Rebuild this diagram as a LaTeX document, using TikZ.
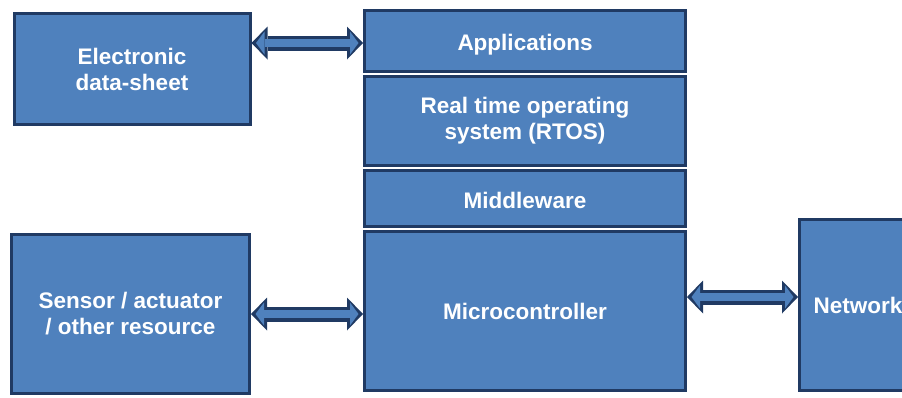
\documentclass[tikz,border=0pt]{standalone}
\usepackage{fontspec}
\setmainfont{Liberation Sans}
\usetikzlibrary{positioning,arrows.meta}
\definecolor{boxfill}{HTML}{4F81BD}
\definecolor{boxline}{HTML}{203A63}
\begin{document}
\begin{tikzpicture}[x=1pt,y=-1pt,node distance=2pt,
  block/.style={draw=boxline,fill=boxfill,line width=3pt,text=white,
    font=\bfseries\fontsize{22.5}{26}\selectfont,align=center,inner sep=0pt},
  layer/.style={block,minimum width=321pt},
  link/.style={draw=boxline,line width=15pt,
    {Triangle[length=16pt,width=33pt,line width=0pt]}-{Triangle[length=16pt,width=33pt,line width=0pt]}},
  linkfill/.style={draw=boxfill,line width=8.5pt,shorten <=4.5pt,shorten >=4.5pt,
    {Triangle[length=8.5pt,width=23pt,line width=0pt]}-{Triangle[length=8.5pt,width=23pt,line width=0pt]}}]
\useasboundingbox (0,0) rectangle (902,397);

% left side
\node[block,minimum width=236pt,minimum height=111pt] (eds) at (132,69) {Electronic\\data-sheet};
\node[block,minimum width=238pt,minimum height=159pt] (sensor) at (130.5,314) {Sensor / actuator\\/ other resource};

% the stack
\node[layer,minimum height=61pt] (apps) at (525,41) {\raisebox{-4pt}[\height][\depth]{Applications}};
\node[layer,minimum height=89pt,below=of apps] (rtos) {Real time operating\\system (RTOS)};
\node[layer,minimum height=56pt,below=of rtos] (mw) {\raisebox{-2pt}[\height][\depth]{Middleware}};
\node[layer,minimum height=159pt,below=of mw] (mcu) {Microcontroller};

% right side
\node[block,minimum width=117pt,minimum height=171pt] (net) at (858,305) {Network};

% arrows
\coordinate (edsport) at ([yshift=-2pt]eds.east |- apps);
\coordinate (netport) at ([yshift=8pt]net.west);
\foreach \a/\b in {edsport/{edsport -| apps.west}, sensor.east/{sensor.east -| mcu.west}, {netport -| mcu.east}/netport} {
  \draw[link] (\a) -- (\b);
  \draw[linkfill] (\a) -- (\b);
}
\end{tikzpicture}
\end{document}
